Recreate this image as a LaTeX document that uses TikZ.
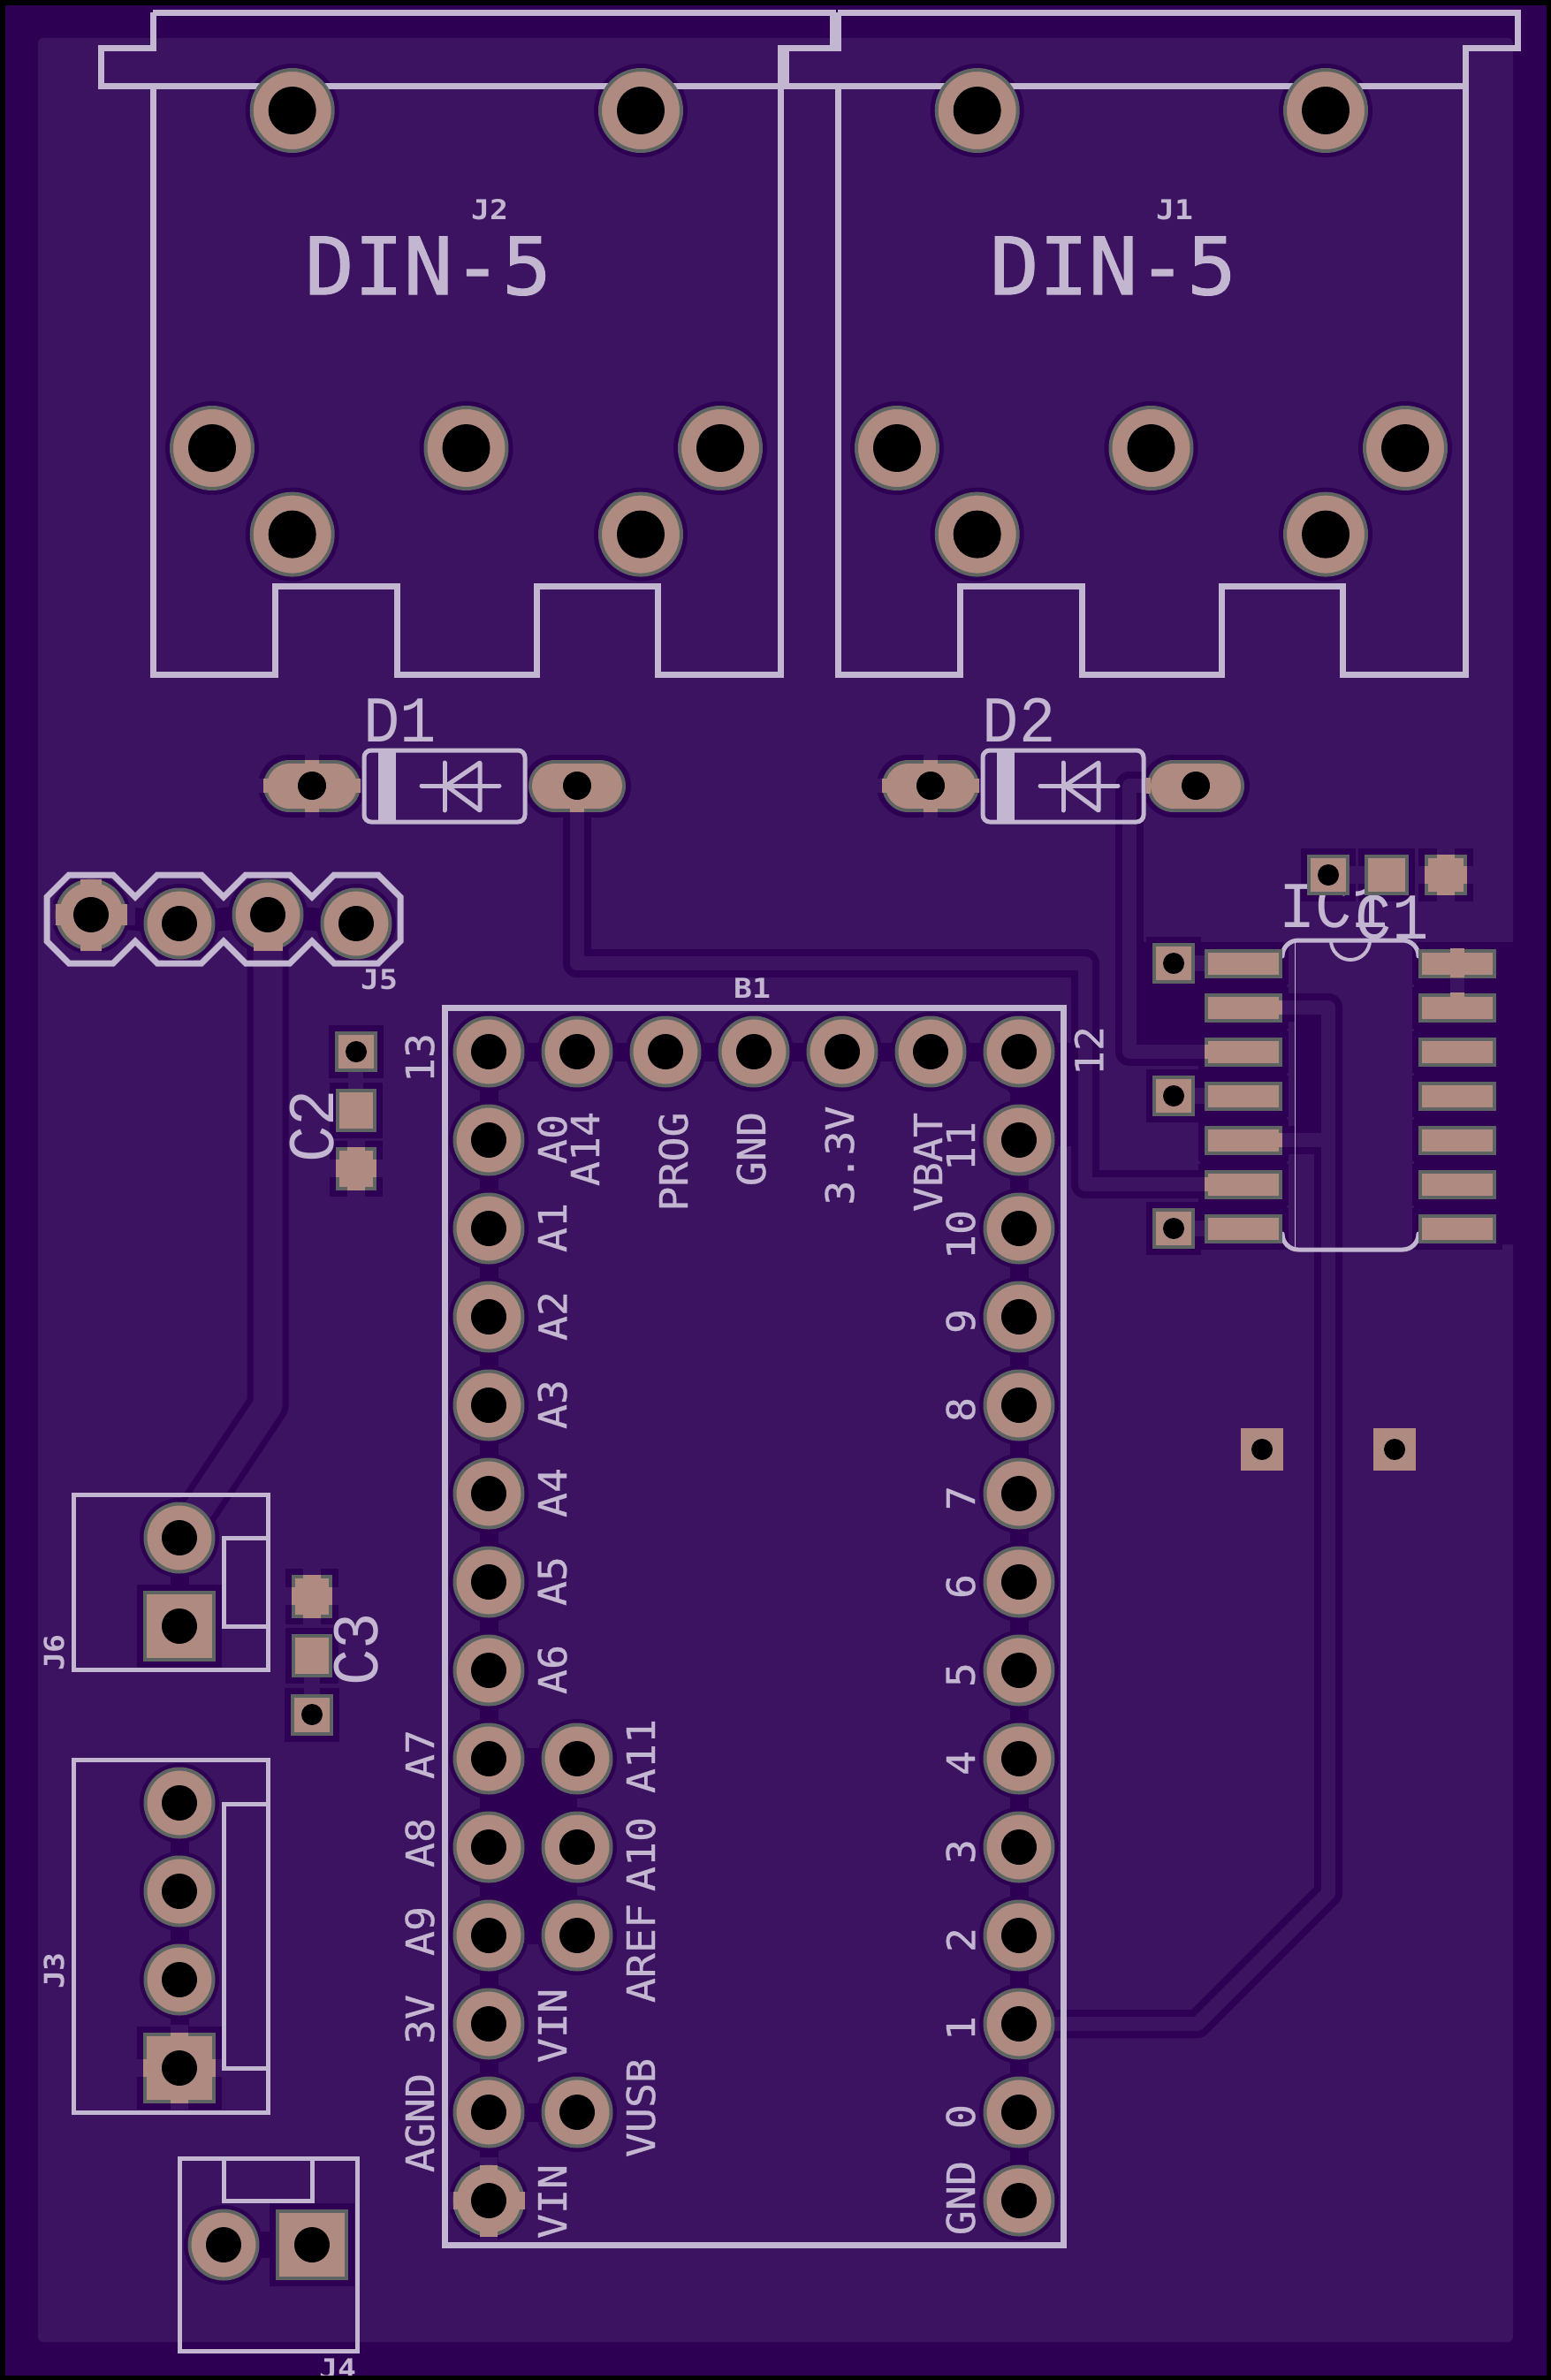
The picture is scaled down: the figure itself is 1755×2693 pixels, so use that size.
\documentclass[tikz,border=0pt]{standalone}
\usepackage{fontspec}
\usepackage{graphicx}
\newfontfamily\vecfont[FakeBold=0.6]{DejaVu Sans Mono}
\newfontfamily\vecbig[FakeBold=1.2]{DejaVu Sans Mono}
\newfontfamily\vecsmall{DejaVu Sans Mono}
\newfontfamily\thinfont{Liberation Mono}
\definecolor{boardd}{HTML}{2E0054}
\definecolor{boardl}{HTML}{3C1360}
\definecolor{silk}{HTML}{C3B6D1}
\definecolor{padc}{HTML}{AE8A80}
\definecolor{pade}{HTML}{5E6461}
\newcount\lbln
\newcommand\pinlbl[3]{\global\advance\lbln by 1 \node[pinlabel] (lbl\the\lbln) at (#1,#2) {\scalebox{1.06}[1]{#3}};}
\newcommand\halo[2]{\fill[boardd] (#1,#2) circle[radius=45];}
\newcommand\padr[2]{\path[padstyle] (#1,#2) circle[radius=38.5]; \fill[black] (#1,#2) circle[radius=20];}
\newcommand\forpins[1]{%
 \foreach \k in {0,...,13}{\pgfmathsetmacro\yy{1190+100*\k}#1{553}{\yy}#1{1153}{\yy}}%
 \foreach \xx in {653,753,853,953,1053}{#1{\xx}{1190}}%
 \foreach \xx/\yy in {653/1990,653/2090,653/2190,653/2390,103/1035,203/1045,303/1035,403/1045,203/1740,203/2040,203/2140,203/2240,253/2540}{#1{\xx}{\yy}}}
\newcommand\forsq[1]{%
 \foreach \xx/\yy/\hw/\hh/\hr in {203/1840/41/40/20,203/2340/41/40/20,353/2540/41/40/20,
   1328/1090/24/23/12,1328/1240/24/23/12,1328/1390/24/23/12,
   1503/990/24/23/12,1569/990/25/23/0,1636/990/24/23/0,
   403/1190/24/23/12,403/1256/23/24.5/0,403/1322/23/24.5/0,
   353/1806/23/24.5/0,353/1873/23/24.5/0,353/1940/24/23.5/12}{#1}%
 \foreach \yy in {1090,1140,1190,1240,1290,1340,1390}{%
   \def\hw{44}\def\hh{16.5}\def\hr{0}\def\xx{1407}#1\def\xx{1649}#1}}
\tikzset{
 padstyle/.style={draw=pade,fill=padc,line width=4},
 pinlabel/.style={font=\vecfont\fontsize{44}{44}\selectfont,text=silk,inner sep=0pt,rotate=90},
 smalllabel/.style={font=\vecsmall\bfseries\fontsize{31}{31}\selectfont,text=silk,inner sep=0pt},
 thinlabel/.style={font=\thinfont\fontsize{74}{74}\selectfont,text=silk,inner sep=0pt},
 biglabel/.style={font=\vecbig\fontsize{90}{90}\selectfont,text=silk,inner sep=0pt},
 silkbold/.style={draw=silk,line width=7,line join=miter},
 silkmed/.style={draw=silk,line width=5,line join=miter},
 silkfine/.style={draw=silk,line width=1.6},
 clear/.style={draw=boardd,line width=32,line join=round},
 trace/.style={draw=boardl,line width=16,line join=round},
 clearwide/.style={draw=boardd,line width=47,line join=round},
 tracewide/.style={draw=boardl,line width=33,line join=round},
 neck/.style={draw=boardd,line width=21},
}
\begin{document}
\begin{tikzpicture}[x=1pt,y=-1pt]
\useasboundingbox (0,0) rectangle (1755,2693);
% board
\fill[boardd] (0,0) rectangle (1755,2693);
\fill[boardl,rounded corners=6] (43,43) rectangle (1712,2650);
% named ends of the copper traces
\coordinate (d1r) at (653,889);
\coordinate (d2r) at (1353,889);
\coordinate (ic3) at (1363,1190);
\coordinate (ic6) at (1363,1340);
\coordinate (ic2) at (1450,1140);
\coordinate (ic5) at (1450,1290);
\coordinate (pin1) at (1153,2290);
\coordinate (j5c) at (303,1035);
\coordinate (j6a) at (203,1740);
\coordinate (tj) at (1503,1290);
% clearance islands
\fill[boardd] (1278,1066) rectangle (1362,1182);
\fill[boardd] (1465,1140) rectangle (1495,1290);
\fill[boardd,rounded corners=5] (1358,1066) rectangle (1456,1406);
\fill[boardd,rounded corners=5] (1600,1066) rectangle (1730,1408);
\fill[boardd] (553,1978) rectangle (653,2200);
\fill[boardd] (1153,1180) rectangle (1220,1297);
\fill[boardd] (1110,1195) -- (1145,1240) -- (1153,1260) -- (1153,1195) -- cycle;
\draw[neck] (553,1190) -- (1153,1190);
\draw[neck] (553,1190) -- (553,2490);
\draw[neck] (1153,1190) -- (1153,2490);
\draw[neck] (553,2390) -- (653,2390);
\draw[neck] (203,2040) -- (203,2340);
\draw[neck] (203,1740) -- (203,1840);
\draw[neck,line width=30] (253,2540) -- (353,2540);
\draw[neck,line width=26] (103,1035) -- (203,1045) -- (303,1035) -- (403,1045);
% clearance round traces
\draw[clear] (d1r) -- (653,1090) -- (1228,1090) -- (1228,1340) -- (ic6);
\draw[clear] (d2r) -- (1278,889) -- (1278,1190) -- (ic3);
\draw[clear] (pin1) -- (1355,2290) -- (1503,2142) -- (1503,1140) -- (ic2);
\draw[clear] (tj) -- (ic5);
\draw[clearwide] (j5c) -- (303,1590) -- (j6a);
% clearance round pads
\forpins{\halo}
\foreach \xx/\yy in {330.7/125,725/125,240/507,527.5/507,815/507,330.7/604.6,725/604.6,
  1105.7/125,1500/125,1015/507,1302.5/507,1590/507,1105.7/604.6,1500/604.6}
  {\fill[boardd] (\xx,\yy) circle[radius=53];}
\forsq{\fill[boardd] (\xx-\hw-7,\yy-\hh-7) rectangle (\xx+\hw+7,\yy+\hh+7);}
\foreach \xx in {353,653,1053,1353}{\draw[boardd,line width=71,line cap=round] (\xx-25.5,889) -- (\xx+25.5,889);}
% traces
\draw[trace] (d1r) -- (653,1090) -- (1228,1090) -- (1228,1340) -- (ic6);
\draw[trace] (d2r) -- (1278,889) -- (1278,1190) -- (ic3);
\draw[trace] (pin1) -- (1355,2290) -- (1503,2142) -- (1503,1140) -- (ic2);
\draw[trace] (tj) -- (ic5);
\draw[tracewide] (j5c) -- (303,1590) -- (j6a);
% pour joins to thermal pads and vias
\foreach \xx/\yy/\hw/\hh/\ar in {353/889/55/29.5/8,1053/889/55/29.5/8,1636/990/24/23/10,403/1322/23/24.5/10,353/1806/23/24.5/10,203/2340/41/40/10,553/2490/40.5/40.5/10,103/1035/40.5/40.5/12}{
  \fill[boardl] (\xx-\ar,\yy-\hh-9) rectangle (\xx+\ar,\yy+\hh+9);
  \fill[boardl] (\xx-\hw-9,\yy-\ar) rectangle (\xx+\hw+9,\yy+\ar);}
\fill[boardl] (1527,980) rectangle (1544,1000);
\fill[boardl] (1352,1081) rectangle (1363,1099);
\fill[boardl] (1352,1231) rectangle (1363,1249);
\fill[boardl] (1352,1381) rectangle (1363,1399);
\fill[boardl] (394,1213) rectangle (411,1232);
\fill[boardl] (344,1897) rectangle (362,1917);
\fill[boardl] (1641,1100) rectangle (1657,1130);
% silk: DIN connectors
\foreach \dx in {0,775}{
 \begin{scope}[shift={(\dx,0)}]
  \draw[silkbold] (173,14) -- (942,14) -- (942,54) -- (883,54) -- (883,763) -- (744,763) -- (744,663) -- (607,663) -- (607,763) -- (449,763) -- (449,663) -- (311,663) -- (311,763) -- (173,763) -- (173,97);
  \draw[silkbold] (173,14) -- (173,54) -- (114,54) -- (114,97) -- (883,97);
 \end{scope}}
\node[biglabel] (din2) at (484.5,301) {\scalebox{1.03}[1]{DIN-5}};
\node[biglabel] (din1) at (1259.5,301) {\scalebox{1.03}[1]{DIN-5}};
\node[smalllabel] (j2l) at (554,237) {\scalebox{1.12}[1]{J2}};
\node[smalllabel] (j1l) at (1329,237) {\scalebox{1.12}[1]{J1}};
% silk: diodes
\foreach \dx/\nm in {0/D1,700/D2}{
 \begin{scope}[shift={(\dx,0)}]
  \draw[silkmed,rounded corners=8] (412,849) rectangle (594,930);
  \fill[silk] (428,851) rectangle (448,928);
  \draw[silkmed,line cap=round] (477,889) -- (565,889);
  \draw[silkmed,line cap=round] (503,863) -- (503,917);
  \draw[silkmed,line cap=round,line join=round] (543,863) -- (505,889) -- (543,917) -- cycle;
  \node[thinlabel] (lab\nm) at (453,815) {\scalebox{.93}[1]{\nm}};
 \end{scope}}
% silk: J5
\draw[silkbold] (53,1015) -- (78,990) -- (128,990) -- (153,1015) -- (178,990) -- (228,990) -- (253,1015) -- (278,990) -- (328,990) -- (353,1015) -- (378,990) -- (428,990) -- (453,1015) -- (453,1065) -- (428,1090) -- (378,1090) -- (353,1065) -- (328,1090) -- (278,1090) -- (253,1065) -- (228,1090) -- (178,1090) -- (153,1065) -- (128,1090) -- (78,1090) -- (53,1065) -- cycle;
\node[smalllabel] (j5l) at (429,1108) {\scalebox{1.12}[1]{J5}};
% silk: J6, J3, J4
\draw[silkmed] (83,1691) rectangle (303,1889.5);
\draw[silkmed] (303,1740) -- (253,1740) -- (253,1840) -- (303,1840);
\draw[silkmed] (83,1991) rectangle (303,2390);
\draw[silkmed] (303,2041) -- (253,2041) -- (253,2340) -- (303,2340);
\draw[silkmed] (203,2442) rectangle (404,2660);
\draw[silkmed] (253,2442) -- (253,2490) -- (353,2490) -- (353,2442);
\node[smalllabel,rotate=90] (j6l) at (61,1870) {\scalebox{1.12}[1]{J6}};
\node[smalllabel,rotate=90] (j3l) at (61,2230) {\scalebox{1.12}[1]{J3}};
\node[smalllabel] (j4l) at (382,2680) {\scalebox{1.12}[1]{J4}};
% silk: B1
\draw[silkbold] (503,1140) rectangle (1203,2540);
\node[smalllabel] (b1l) at (851,1118) {\scalebox{1.12}[1]{B1}};
\pinlbl{475}{1197}{13}
\pinlbl{625}{1289}{A0}
\pinlbl{662}{1300}{A14}
\pinlbl{762}{1314.5}{PROG}
\pinlbl{850}{1300}{GND}
\pinlbl{950}{1307.5}{3.3V}
\pinlbl{1050}{1315}{VBAT}
\pinlbl{1232}{1189}{12}
\pinlbl{1087}{1297}{11}
\pinlbl{1087}{1397}{10}
\foreach \nn/\yy in {A1/1389,A2/1489,A3/1589,A4/1689,A5/1789,A6/1889}{\pinlbl{625}{\yy}{\nn}}
\foreach \nn/\yy in {9/1495,8/1595,7/1695,6/1795,5/1895,4/1995,3/2095,2/2195,1/2295,0/2395}{\pinlbl{1087}{\yy}{\nn}}
\pinlbl{1087}{2487}{GND}
\pinlbl{475}{1985}{A7}
\pinlbl{475}{2085}{A8}
\pinlbl{475}{2185}{A9}
\pinlbl{475}{2285}{3V}
\pinlbl{475}{2402}{AGND}
\pinlbl{625}{2292}{VIN}
\pinlbl{625}{2491}{VIN}
\pinlbl{725}{1987}{A11}
\pinlbl{725}{2098}{A10}
\pinlbl{725}{2210}{AREF}
\pinlbl{725}{2385}{VUSB}
% silk: capacitors and IC
\node[thinlabel,rotate=90] (c2l) at (353,1274) {\scalebox{.93}[1]{C2}};
\node[thinlabel,rotate=90] (c3l) at (403,1866) {\scalebox{.93}[1]{C3}};
\node[thinlabel] (ic1l) at (1509,1025) {\scalebox{.93}[1]{IC1}};
\node[thinlabel] (c1l) at (1575,1038) {\scalebox{.93}[1]{C1}};
\draw[silkmed,line cap=round] (1451,1082) .. controls (1451,1072) and (1459,1064) .. (1469,1064) -- (1587,1064) .. controls (1597,1064) and (1605,1072) .. (1605,1082);
\draw[silkmed,line cap=round] (1451,1396) .. controls (1451,1406) and (1459,1414) .. (1469,1414) -- (1587,1414) .. controls (1597,1414) and (1605,1406) .. (1605,1396);
\draw[silkmed,line width=4] (1506,1064) arc[start angle=180,end angle=0,radius=22];
\draw[silkfine] (1465.5,1064) -- (1465.5,1414);
% pads
\forpins{\padr}
\foreach \xx/\yy in {330.7/125,725/125,240/507,527.5/507,815/507,330.7/604.6,725/604.6,
  1105.7/125,1500/125,1015/507,1302.5/507,1590/507,1105.7/604.6,1500/604.6}
  {\path[padstyle] (\xx,\yy) circle[radius=46]; \fill[black] (\xx,\yy) circle[radius=27];}
\foreach \xx in {353,653,1053,1353}{
  \draw[pade,line width=59,line cap=round] (\xx-25.5,889) -- (\xx+25.5,889);
  \draw[padc,line width=51,line cap=round] (\xx-25.5,889) -- (\xx+25.5,889);}
\forsq{\path[padstyle] (\xx-\hw+2,\yy-\hh+2) rectangle (\xx+\hw-2,\yy+\hh-2);}
% pad edge breaks where copper joins
\foreach \xx/\yy/\hw/\hh/\ar in {353/889/55/29.5/8,1053/889/55/29.5/8,1636/990/24/23/10,403/1322/23/24.5/10,353/1806/23/24.5/10,203/2340/41/40/10,553/2490/40.5/40.5/10,103/1035/40.5/40.5/12}{
  \fill[padc] (\xx-\ar,\yy-\hh) rectangle (\xx+\ar,\yy+\hh);
  \fill[padc] (\xx-\hw,\yy-\ar) rectangle (\xx+\hw,\yy+\ar);}
\fill[padc] (287,1058) rectangle (320,1076);
\fill[padc] (645,904) rectangle (661,919);
\fill[padc] (1297,880) rectangle (1302,898);
\fill[padc] (1641,1073) rectangle (1657,1106);
\fill[padc] (1641,1123) rectangle (1657,1140);
\fill[padc] (1363,1182) rectangle (1368,1198);
\fill[padc] (1363,1332) rectangle (1368,1348);
\fill[padc] (1446,1132) rectangle (1451,1148);
\fill[padc] (1446,1282) rectangle (1451,1298);
% holes
\foreach \xx/\yy in {553/2490,103/1035}{\fill[black] (\xx,\yy) circle[radius=20];}
\foreach \xx/\yy/\rr in {353/889/16,653/889/16,1053/889/16,1353/889/16,203/1840/20,203/2340/20,353/2540/20,1328/1090/12,1328/1240/12,1328/1390/12,1503/990/12,403/1190/12,353/1940/12}{\fill[black] (\xx,\yy) circle[radius=\rr];}
% stand-alone vias
\foreach \xx in {1428,1578}{
  \fill[padc] (\xx-24,1616) rectangle (\xx+24,1664);
  \fill[black] (\xx,1640) circle[radius=12];}
% black edge of the image
\fill[black] (0,0) rectangle (1755,6);
\fill[black] (0,2688) rectangle (1755,2693);
\fill[black] (0,0) rectangle (6,2693);
\fill[black] (1750,0) rectangle (1755,2693);
\end{tikzpicture}
\end{document}
